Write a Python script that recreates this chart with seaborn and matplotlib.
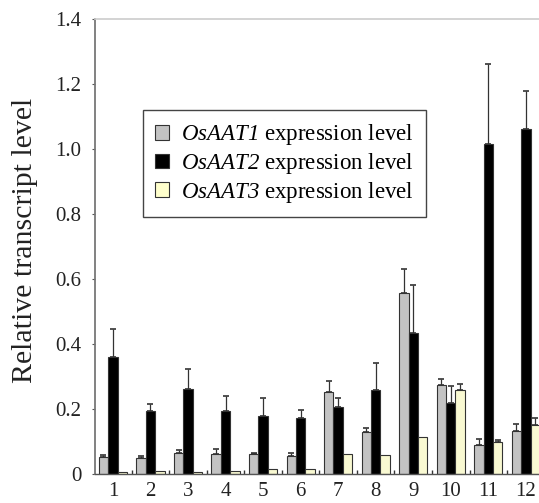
import matplotlib
matplotlib.use("Agg")
import matplotlib.pyplot as plt
import seaborn as sns
import pandas as pd
import numpy as np
from matplotlib.ticker import FixedLocator, FuncFormatter
from matplotlib.patches import Patch

categories = ["1", "2", "3", "4", "5", "6", "7", "8", "9", "10", "11", "12"]
aat1 = [0.051, 0.049, 0.066, 0.062, 0.060, 0.056, 0.251, 0.130, 0.556, 0.274, 0.089, 0.133]
aat1_err = [0.007, 0.007, 0.009, 0.015, 0.005, 0.009, 0.034, 0.011, 0.074, 0.019, 0.020, 0.021]
aat2 = [0.360, 0.194, 0.260, 0.194, 0.177, 0.171, 0.207, 0.258, 0.435, 0.217, 1.016, 1.062]
aat2_err = [0.085, 0.021, 0.063, 0.047, 0.056, 0.026, 0.028, 0.082, 0.147, 0.053, 0.246, 0.117]
aat3 = [0.006, 0.008, 0.007, 0.009, 0.014, 0.015, 0.062, 0.057, 0.114, 0.258, 0.099, 0.150]
aat3_err = [0.0, 0.0, 0.0, 0.0, 0.0, 0.0, 0.0, 0.0, 0.0, 0.019, 0.005, 0.022]
series = ["OsAAT1", "OsAAT2", "OsAAT3"]
colors = ["#c3c3c3", "#000000", "#ffffcc"]
yticks = [0, 0.2, 0.4, 0.6, 0.8, 1.0, 1.2, 1.4]

plt.rcParams["font.family"] = ["Liberation Serif", "DejaVu Serif"]
plt.rcParams["mathtext.fontset"] = "custom"
plt.rcParams["mathtext.rm"] = "Liberation Serif"
plt.rcParams["mathtext.bf"] = "Liberation Serif:italic"

df = pd.DataFrame({
    "cat": categories * 3,
    "gene": [s for s in series for _ in categories],
    "val": aat1 + aat2 + aat3,
})
errs = [aat1_err, aat2_err, aat3_err]

fig = plt.figure(figsize=(5.39, 5.03), dpi=100)
ax = fig.add_axes([0.176, 0.0577, 0.824, 0.905])
sns.barplot(data=df, x="cat", y="val", hue="gene", order=categories,
            hue_order=series, palette=colors, width=0.75, gap=0,
            edgecolor="#333333", linewidth=0.8, errorbar=None, legend=False, ax=ax)

for cont, err in zip(ax.containers, errs):
    xs = [b.get_x() + b.get_width() / 2 for b in cont]
    hs = [b.get_height() for b in cont]
    e = np.array(err)
    mask = e > 0
    ax.errorbar(np.array(xs)[mask], np.array(hs)[mask],
                yerr=[np.zeros(mask.sum()), e[mask]], fmt="none",
                ecolor="#333333", elinewidth=0.9, capsize=2.5, capthick=1.2, zorder=3)

ax.set_xlim(-0.48, 11.35)
ax.set_ylim(0, 1.4)
ax.yaxis.set_major_locator(FixedLocator(yticks))
ax.yaxis.set_major_formatter(FuncFormatter(lambda v, p: "0" if v == 0 else f"{v:.1f}"))
ax.tick_params(axis="y", labelsize=15, length=2.5, width=0.8, color="#555555", pad=7, labelcolor="#222222")
ax.tick_params(axis="x", which="major", labelsize=15, length=0, pad=6, labelcolor="#222222")
ax.xaxis.set_minor_locator(FixedLocator([i + 0.5 for i in range(11)]))
ax.tick_params(axis="x", which="minor", direction="in", length=3, width=1, color="#333333")
ax.set_xlabel("")
ax.set_ylabel("Relative transcript level", fontsize=21.5, color="#222222")
ax.yaxis.set_label_coords(-0.128, 0.514)

ax.spines["right"].set_visible(False)
ax.spines["top"].set_color("#cccccc")
ax.spines["top"].set_linewidth(1.2)
ax.spines["left"].set_color("#777777")
ax.spines["left"].set_linewidth(1.3)
ax.spines["bottom"].set_color("#555555")
ax.spines["bottom"].set_linewidth(1.0)

handles = [Patch(facecolor=c, edgecolor="#333333", linewidth=0.8) for c in colors]
labels = [rf"$\mathbf{{{s}}}$ expression level" for s in series]
leg = ax.legend(handles, labels, loc="upper left", bbox_to_anchor=(0.108, 0.80),
                borderaxespad=0, fontsize=16.5, frameon=True, fancybox=False, framealpha=1,
                edgecolor="#444444", handlelength=0.6, handleheight=0.6,
                handletextpad=0.5, labelspacing=0.16, borderpad=0.55)
leg.get_frame().set_linewidth(1.0)

fig.savefig("out.png", dpi=100)
